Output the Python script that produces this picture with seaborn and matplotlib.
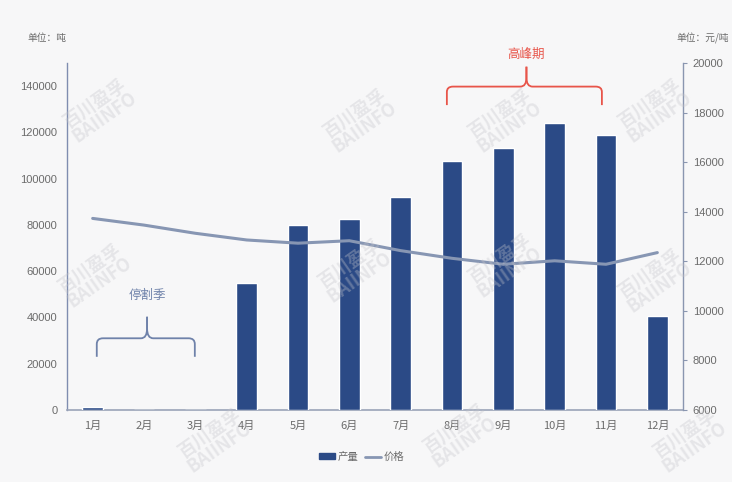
import numpy as np
import pandas as pd
import matplotlib
matplotlib.use("Agg")
import matplotlib.pyplot as plt
import seaborn as sns
from matplotlib.path import Path
from matplotlib.patches import PathPatch, Patch
from matplotlib.lines import Line2D

months = ["1月", "2月", "3月", "4月", "5月", "6月", "7月", "8月", "9月", "10月", "11月", "12月"]
output = [1200, 0, 0, 55000, 80000, 82500, 92200, 107800, 113300, 124200, 119000, 40500]
price = [13730, 13460, 13130, 12860, 12730, 12830, 12430, 12120, 11880, 12020, 11880, 12350]

df = pd.DataFrame({"month": months, "output": output, "price": price})

sns.set_style("white")
plt.rcParams['font.family'] = ['Noto Sans CJK SC', 'DejaVu Sans']

bar_color = "#2b4a86"
line_color = "#8796b3"
red = "#e8554a"
brace_blue = "#6f82aa"
tick_gray = "#6b6b6b"

fig = plt.figure(figsize=(7.32, 4.82), dpi=100, facecolor="#f7f7f8")
ax = fig.add_axes([67/732, 1-410/482, (683-67)/732, (410-63)/482])
ax.set_facecolor("none")

# faint watermarks
for wx, wy in [(100, 110), (360, 120), (505, 120), (655, 110),
               (95, 275), (355, 270), (505, 265), (655, 280),
               (215, 440), (460, 435), (690, 440)]:
    fig.text(wx/732, 1-wy/482, "百川盈孚\nBAIINFO", rotation=35, fontsize=13,
             color="#c4c4ca", ha="center", va="center", fontweight="bold",
             linespacing=0.9, zorder=0, alpha=0.35)

sns.barplot(data=df, x="month", y="output", color=bar_color, width=0.4,
            saturation=1, ax=ax, zorder=3)

ax2 = ax.twinx()
sns.lineplot(data=df, x="month", y="price", color=line_color, linewidth=2.2,
             ax=ax2, sort=False, zorder=3)

ax.set_xlim(-0.5, 11.5)
ax.set_ylim(0, 150000)
ax.set_yticks(range(0, 140001, 20000))
ax2.set_ylim(6000, 20000)
ax2.set_yticks(range(6000, 20001, 2000))

ax.set_xlabel("")
ax.set_ylabel("")
ax2.set_xlabel("")
ax2.set_ylabel("")

num_font = ['Liberation Sans', 'DejaVu Sans']
for lab in ax.get_yticklabels() + ax2.get_yticklabels():
    lab.set_family(num_font)
    lab.set_fontsize(8)
    lab.set_color(tick_gray)
for lab in ax.get_xticklabels():
    lab.set_fontsize(8)
    lab.set_color(tick_gray)

ax.tick_params(axis="y", length=0, pad=7)
ax.tick_params(axis="x", length=0, pad=8)
ax2.tick_params(axis="y", length=3, width=0.8, color="#8a96b0", pad=4)

for a in (ax, ax2):
    a.spines["top"].set_visible(False)
ax.spines["right"].set_visible(False)
ax.spines["left"].set_color("#7f8db0")
ax.spines["left"].set_linewidth(1)
ax.spines["bottom"].set_color("#9aa3b8")
ax.spines["bottom"].set_linewidth(1.2)
ax2.spines["left"].set_visible(False)
ax2.spines["bottom"].set_visible(False)
ax2.spines["right"].set_color("#8a96b0")
ax2.spines["right"].set_linewidth(1)


def brace(a, x0, x1, xc, ye, yh, yn, color):
    rx = 0.12
    ry = (yn - yh) * 0.45
    for xs, sgn in [(x0, 1), (x1, -1)]:
        verts = [(xs, ye), (xs, yh - ry * 0.6), (xs, yh), (xs + sgn * rx, yh),
                 (xc - sgn * rx, yh), (xc, yh), (xc, yh + ry), (xc, yn)]
        codes = [Path.MOVETO, Path.LINETO, Path.CURVE3, Path.CURVE3,
                 Path.LINETO, Path.CURVE3, Path.CURVE3, Path.LINETO]
        a.add_patch(PathPatch(Path(verts, codes), fill=False, edgecolor=color,
                              linewidth=1.3, clip_on=False, zorder=5))


brace(ax, 6.90, 9.92, 8.45, 131800, 139800, 148400, red)
ax.text(8.45, 153500, "高峰期", color=red, fontsize=9, ha="center", va="center",
        clip_on=False)

brace(ax, 0.08, 1.99, 1.06, 23000, 31000, 40300, brace_blue)
ax.text(1.06, 49700, "停割季", color=brace_blue, fontsize=9, ha="center", va="center")

fig.text(27/732, 1-38/482, "单位：吨", fontsize=7, color=tick_gray, va="center")
fig.text(729/732, 1-38/482, "单位：元/吨", fontsize=7, color=tick_gray, va="center",
         ha="right")

handles = [Patch(facecolor=bar_color, edgecolor=bar_color),
           Line2D([0], [0], color=line_color, linewidth=2)]
fig.legend(handles, ["产量", "价格"], loc="center", bbox_to_anchor=(362/732, 1-457/482),
           ncol=2, frameon=False, fontsize=7.5, handlelength=1.5, handleheight=0.5,
           columnspacing=0.6, handletextpad=0.3, labelcolor=tick_gray)

if ax2.get_legend() is not None:
    ax2.get_legend().remove()

fig.savefig("out.png", dpi=100, facecolor=fig.get_facecolor())
